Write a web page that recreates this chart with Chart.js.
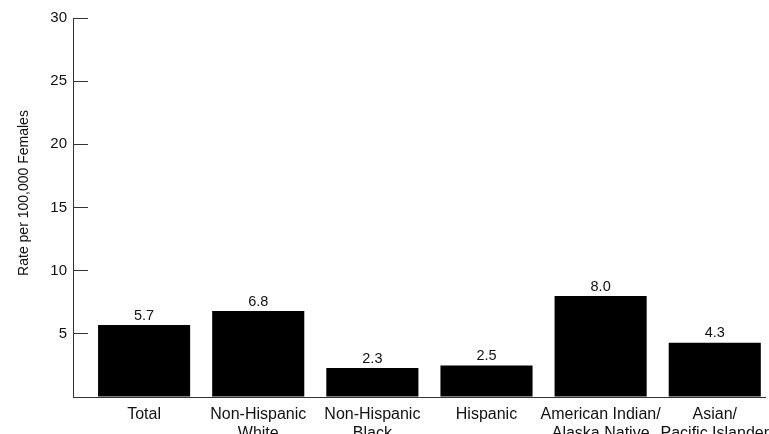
<!DOCTYPE html>
<html>
<head>
<meta charset="utf-8">
<script src="https://cdn.jsdelivr.net/npm/chart.js@4.4.1/dist/chart.umd.min.js"></script>
<style>
  html, body { margin: 0; padding: 0; background: #fff; }
  #wrap { width: 769px; height: 434px; }
</style>
</head>
<body>
<div id="wrap"><canvas id="chart"></canvas></div>
<script>
// ── Data ────────────────────────────────────────────────────
const categories = [
    'Total',
    ['Non-Hispanic', 'White'],
    ['Non-Hispanic', 'Black'],
    'Hispanic',
    ['American Indian/', 'Alaska Native'],
    ['Asian/', 'Pacific Islander']
];
const rates  = [5.7, 6.8, 2.3, 2.5, 8.0, 4.3];
const yTicks = [0, 5, 10, 15, 20, 25, 30];
const yTitle = 'Rate per 100,000 Females';

const FONT = "'Liberation Sans', Arial, Helvetica, sans-serif";
const INK  = '#111';

// ── Value labels above bars + rotated axis title ────────────
const annotate = {
    id: 'annotate',
    afterDatasetsDraw(chart) {
        const ctx = chart.ctx;
        const meta = chart.getDatasetMeta(0);
        ctx.save();
        ctx.font = `14.5px ${FONT}`;
        ctx.fillStyle = INK;
        ctx.textAlign = 'center';
        ctx.textBaseline = 'bottom';
        meta.data.forEach((bar, i) => {
            ctx.fillText(rates[i].toFixed(1), bar.x, bar.y - 2);
        });

        // y title, sits a bit above the axis middle in the original
        ctx.font = `14px ${FONT}`;
        ctx.textBaseline = 'middle';
        ctx.translate(24, 193);
        ctx.rotate(-Math.PI / 2);
        ctx.fillText(yTitle, 0, 0);
        ctx.restore();
    }
};

new Chart(document.getElementById('chart'), {
    type: 'bar',
    data: {
        datasets: [{
            data: rates.map((v, i) => ({ x: i, y: v })),
            backgroundColor: '#000',
            borderWidth: 0,
            barPercentage: 0.807,
            categoryPercentage: 1
        }]
    },
    options: {
        responsive: true,
        maintainAspectRatio: false,
        animation: false,
        layout: { padding: { top: 18, right: 0, left: 0, bottom: 0 } },
        plugins: { legend: { display: false }, tooltip: { enabled: false } },
        scales: {
            x: {
                type: 'linear',
                offset: false,
                min: -0.623,
                max: 5.447,
                afterBuildTicks: s => { s.ticks = categories.map((_, i) => ({ value: i })); },
                afterFit: s => { s.height = 37; },
                grid: { display: false, offset: false },
                border: { display: true, color: '#333', width: 1 },
                ticks: {
                    autoSkip: false,
                    maxRotation: 0,
                    padding: 0,
                    color: INK,
                    font: { family: FONT, size: 16, lineHeight: 1.2 },
                    callback: v => categories[v]
                }
            },
            y: {
                min: 0,
                max: 30,
                afterBuildTicks: s => { s.ticks = yTicks.map(v => ({ value: v })); },
                // inward ticks make the label padding large; don't let it push the plot down
                afterFit: s => { s.width = 73; s.paddingTop = 0; s.paddingBottom = 0; },
                grid: {
                    drawOnChartArea: false,
                    tickLength: -15,
                    color: c => (c.tick && c.tick.value === 0) ? 'rgba(0,0,0,0)' : '#333'
                },
                border: { display: true, color: '#333', width: 1 },
                ticks: {
                    padding: 21,
                    color: INK,
                    font: { family: FONT, size: 15 },
                    callback: v => v === 0 ? '' : v
                }
            }
        }
    },
    plugins: [annotate]
});
</script>
</body>
</html>
